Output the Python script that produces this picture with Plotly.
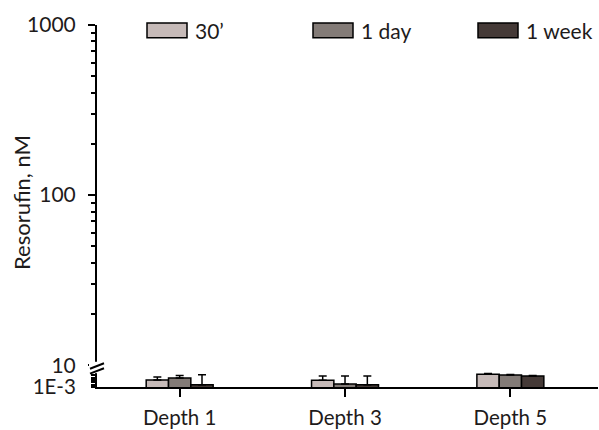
import plotly.graph_objects as go

# ---- data ----
categories = ["Depth 1", "Depth 3", "Depth 5"]
series_names = ["30\u2019", "1 day", "1 week"]
series_colors = ["#c6bab8", "#837b77", "#453a37"]
values_30min = [0.03, 0.026, 0.55]
values_1day = [0.079, 0.0043, 0.34]
values_1week = [0.003, 0.003, 0.21]
err_30min = [0.097, 0.184, 0.22]
err_1day = [0.21, 0.206, 0.13]
err_1week = [0.387, 0.207, 0.08]
upper_ticks = [10, 100, 1000]
upper_minor = [20, 30, 40, 50, 60, 70, 80, 90, 200, 300, 400, 500, 600, 700, 800, 900]
lower_ticks = [0.001, 0.003, 0.01, 0.03, 0.1, 0.3]
lower_ticktext = ["1E-3", "", "", "", "", ""]

W, H = 599, 430
ML, MR, MT, MB = 97, 1, 25, 39
PW, PH = W - ML - MR, H - MT - MB
base_px = H - MB


def px_x(px):
    return (px - ML) / PW


def px_y(py):
    return (base_px - py) / PH


FONT = "Lato, 'Open Sans', sans-serif"
TXT = "#1e1b1b"

fig = go.Figure()
vals = [values_30min, values_1day, values_1week]
errs = [err_30min, err_1day, err_1week]
for name, col, v, e in zip(series_names, series_colors, vals, errs):
    fig.add_trace(go.Bar(
        x=categories, y=v, name=name, xaxis="x", yaxis="y2",
        marker=dict(color=col, line=dict(color="black", width=1.5)),
        error_y=dict(type="data", array=e, symmetric=False,
                     arrayminus=[0] * len(e), color="black", thickness=1.5, width=4),
        showlegend=False,
    ))

# helper so the upper (log 10-1000) axis is drawn
fig.add_trace(go.Scatter(x=categories, y=[None] * len(categories), xaxis="x", yaxis="y",
                         mode="markers", showlegend=False, hoverinfo="skip"))

upper_bottom = px_y(369)
lower_top = px_y(372)

fig.update_layout(
    width=W, height=H,
    margin=dict(l=ML, r=MR, t=MT, b=MB),
    paper_bgcolor="white", plot_bgcolor="white",
    font=dict(family=FONT, size=19, color=TXT),
    barmode="group", bargap=0.595, bargroupgap=0,
    xaxis=dict(anchor="y2", range=[-0.5, 2.53], showline=True, linecolor="black",
               linewidth=2, ticks="outside", ticklen=8, tickwidth=2, tickcolor="black",
               showgrid=False, zeroline=False, tickfont=dict(size=20.5),
               ticklabelstandoff=3),
    yaxis=dict(domain=[upper_bottom, 1], type="log", range=[1, 3], anchor="x",
               showline=True, linecolor="black", linewidth=2, ticks="outside",
               ticklen=7, tickwidth=2, tickcolor="black", tickvals=upper_ticks,
               ticktext=[str(t) for t in upper_ticks], showgrid=False, zeroline=False,
               ticklabelstandoff=8, tickfont=dict(size=21),
               minor=dict(tickvals=upper_minor, ticks="outside", ticklen=4,
                          tickwidth=2, tickcolor="black", showgrid=False)),
    yaxis2=dict(domain=[0, lower_top], type="log", range=[-3, 1], anchor="x",
                showline=True, linecolor="black", linewidth=2, ticks="outside",
                ticklen=4, tickwidth=1.5, tickcolor="black", tickvals=lower_ticks,
                ticktext=lower_ticktext, showgrid=False, zeroline=False,
                ticklabelstandoff=11, tickfont=dict(size=20.5)),
)

shapes = [
    dict(type="rect", xref="paper", yref="paper", x0=px_x(89), x1=px_x(106),
         y0=px_y(377), y1=px_y(365.5), fillcolor="white", line=dict(width=0), layer="above"),
    dict(type="line", xref="paper", yref="paper", x0=px_x(90), y0=px_y(372.5),
         x1=px_x(104), y1=px_y(367), line=dict(color="black", width=2), layer="above"),
    dict(type="line", xref="paper", yref="paper", x0=px_x(90), y0=px_y(377.5),
         x1=px_x(104), y1=px_y(372), line=dict(color="black", width=2), layer="above"),
]
annotations = []
legend_x = [147, 313, 478]
for lx, name, col in zip(legend_x, series_names, series_colors):
    shapes.append(dict(type="rect", xref="paper", yref="paper", x0=px_x(lx), x1=px_x(lx + 40),
                       y0=px_y(38), y1=px_y(23), fillcolor=col,
                       line=dict(color="black", width=1.5), layer="above"))
    annotations.append(dict(xref="paper", yref="paper", x=px_x(lx + 46), y=px_y(30.5),
                            text=name, showarrow=False, xanchor="left", yanchor="middle",
                            font=dict(size=21, color=TXT, family=FONT)))
annotations.append(dict(xref="paper", yref="paper", x=px_x(21), y=px_y(205),
                        text="Resorufin, nM", showarrow=False, textangle=-90,
                        xanchor="center", yanchor="middle",
                        font=dict(size=22, color=TXT, family=FONT)))
fig.update_layout(shapes=shapes, annotations=annotations)

fig.write_html("out.html", config={"displayModeBar": False},
               post_script="document.body.style.margin='0';")
